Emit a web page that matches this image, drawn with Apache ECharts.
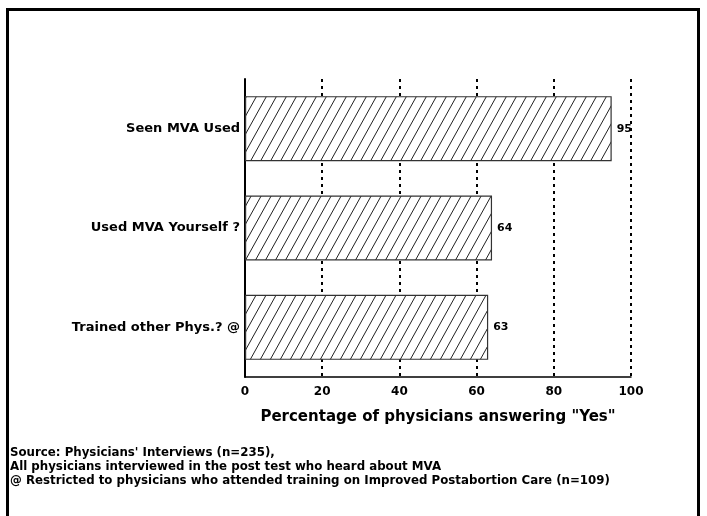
<!DOCTYPE html>
<html>
<head>
<meta charset="utf-8">
<script src="https://cdn.jsdelivr.net/npm/echarts@6/dist/echarts.min.js"></script>
<style>
  html, body { margin: 0; padding: 0; background: #fff; }
  #chart { width: 707px; height: 516px; }
</style>
</head>
<body>
<div id="chart"></div>
<script>
var categories = ['Seen MVA Used', 'Used MVA Yourself ?', 'Trained other Phys.? @'];
var values = [95, 64, 63];
var xTicks = [0, 20, 40, 60, 80, 100];
var xTitle = 'Percentage of physicians answering "Yes"';
var notes = [
    "Source: Physicians' Interviews (n=235),",
    'All physicians interviewed in the post test who heard about MVA',
    '@ Restricted to physicians who attended training on Improved Postabortion Care (n=109)'
];

// diagonal hatch for the bars
function hatch() {
    var w = 10, h = 18;
    var c = document.createElement('canvas');
    c.width = w; c.height = h;
    var ctx = c.getContext('2d');
    ctx.fillStyle = '#fff';
    ctx.fillRect(0, 0, w, h);
    ctx.strokeStyle = '#222';
    ctx.lineWidth = 1;
    ctx.beginPath();
    for (var k = -1; k <= 1; k++) {
        ctx.moveTo(k * w, h);
        ctx.lineTo(k * w + w, 0);
    }
    ctx.stroke();
    return c;
}

var font = 'DejaVu Sans';
var chart = echarts.init(document.getElementById('chart'));

var noteTexts = notes.map(function (t, i) {
    return {
        type: 'text', left: 10, top: 447 + i * 14,
        style: { text: t, font: 'bold 11.8px "DejaVu Sans"', fill: '#000' }
    };
});

chart.setOption({
    animation: false,
    grid: { left: 245, right: 76, top: 79, bottom: 139 },
    xAxis: {
        type: 'value', min: 0, max: 100, interval: 20,
        name: xTitle, nameLocation: 'middle', nameGap: 33,
        nameTextStyle: { fontFamily: font, fontWeight: 'bold', fontSize: 15, color: '#000' },
        axisLine: { show: true, lineStyle: { color: '#000', width: 1.5 } },
        axisTick: { show: false },
        axisLabel: {
            margin: 9, fontFamily: font, fontWeight: 'bold', fontSize: 12, color: '#000',
            formatter: function (v) { return xTicks.indexOf(v) >= 0 ? String(v) : ''; }
        },
        splitLine: { show: true, lineStyle: { color: '#000', width: 2, type: [3, 4] } }
    },
    yAxis: {
        type: 'category', data: categories, inverse: true,
        axisLine: { show: true, lineStyle: { color: '#000', width: 2 } },
        axisTick: { show: false },
        axisLabel: { margin: 5, fontFamily: font, fontWeight: 'bold', fontSize: 13, color: '#000' }
    },
    series: [{
        type: 'bar', data: values, barWidth: 65,
        itemStyle: { color: { image: hatch(), repeat: 'repeat' }, borderColor: '#333', borderWidth: 1.2 },
        label: {
            show: true, position: 'right', distance: 5,
            fontFamily: font, fontWeight: 'bold', fontSize: 11, color: '#000'
        }
    }],
    graphic: [{
        type: 'rect', shape: { x: 7.5, y: 9.5, width: 691, height: 520 },
        style: { fill: null, stroke: '#000', lineWidth: 3 }
    }].concat(noteTexts)
});
</script>
</body>
</html>
